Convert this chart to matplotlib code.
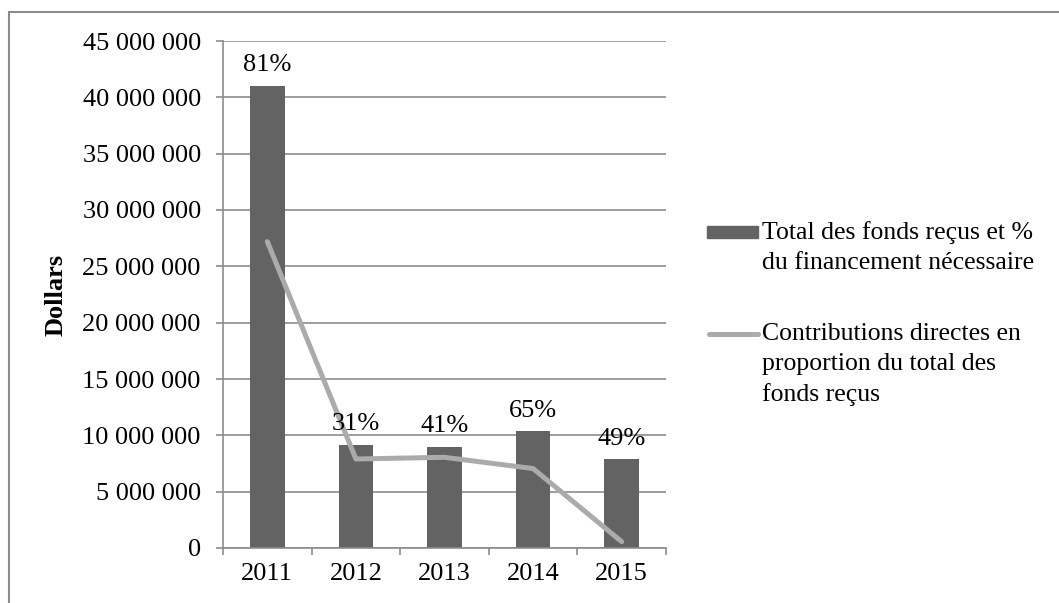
import matplotlib.pyplot as plt
import matplotlib.patches as mpatches
from matplotlib.lines import Line2D
from matplotlib.ticker import FuncFormatter

# Données
annees = ["2011", "2012", "2013", "2014", "2015"]
fonds_recus = [41000000, 9150000, 9000000, 10350000, 7870000]
contributions = [27200000, 7900000, 8050000, 7050000, 560000]
pourcentages = ["81%", "31%", "41%", "65%", "49%"]

couleur_barre = "#636363"
couleur_ligne = "#ababab"
couleur_grille = "#8c8c8c"
taille = 19

plt.rcParams["font.family"] = ["Liberation Serif", "DejaVu Serif"]

W, H = 1059, 603
fig = plt.figure(figsize=(W / 100, H / 100), dpi=100)
ax = fig.add_axes([223 / W, 1 - 548 / H, (666 - 223) / W, (548 - 41) / H])

x = list(range(len(annees)))
ax.bar(x, fonds_recus, width=0.39, color=couleur_barre, zorder=2)
ax.plot(x, contributions, color=couleur_ligne, linewidth=3.6, zorder=3,
        solid_capstyle="round", solid_joinstyle="round")

# Étiquettes de pourcentage au-dessus des barres
for xi, val, txt in zip(x, fonds_recus, pourcentages):
    ax.annotate(txt, (xi, val), xytext=(0, 7), textcoords="offset points",
                ha="center", va="bottom", fontsize=taille, color="black")

ax.set_xlim(-0.5, len(annees) - 0.5)
ax.set_ylim(0, 45000000)
ax.set_yticks(range(0, 45000001, 5000000))
ax.yaxis.set_major_formatter(FuncFormatter(lambda v, p: f"{int(v):,}".replace(",", " ")))
ax.set_xticks(x)
ax.set_xticklabels(annees)
ax.set_xticks([i - 0.5 for i in range(len(annees) + 1)], minor=True)

ax.tick_params(axis="y", length=5, width=1.2, color=couleur_grille, labelsize=taille, pad=11)
ax.tick_params(axis="x", which="major", length=0, labelsize=taille, pad=11)
ax.tick_params(axis="x", which="minor", length=5, width=1.2, color=couleur_grille)

ax.grid(axis="y", color=couleur_grille, linewidth=1.2, zorder=0)
ax.set_axisbelow(True)
for s in ["top", "right"]:
    ax.spines[s].set_visible(False)
for s in ["left", "bottom"]:
    ax.spines[s].set_color(couleur_grille)
    ax.spines[s].set_linewidth(1.2)

# Titre de l'axe vertical
fig.text(56 / W, 1 - 295 / H, "Dollars", rotation=90, ha="center", va="center",
         fontsize=taille, fontweight="bold")

# Légende dessinée à la main (symbole aligné sur la première ligne)
taille_leg = 18.5
fig.add_artist(mpatches.Rectangle((707 / W, 1 - 238 / H), 51 / W, 12 / H,
                                  transform=fig.transFigure, color=couleur_barre))
fig.text(762 / W, 1 - 221 / H, "Total des fonds reçus et %\ndu financement nécessaire",
         ha="left", va="top", fontsize=taille_leg, linespacing=1.45)
fig.add_artist(Line2D([709 / W, 758 / W], [1 - 334 / H, 1 - 334 / H],
                      transform=fig.transFigure, color=couleur_ligne,
                      linewidth=3.6, solid_capstyle="round"))
fig.text(762 / W, 1 - 323 / H,
         "Contributions directes en\nproportion du total des\nfonds reçus",
         ha="left", va="top", fontsize=taille_leg, linespacing=1.45)

# Cadre autour de la figure
cadre = mpatches.Rectangle((9 / W, -0.05), 1.1, 0.05 + 1 - 12 / H,
                           transform=fig.transFigure, fill=False,
                           edgecolor="#8c8c8c", linewidth=1.5)
fig.patches.append(cadre)

fig.savefig("out.png", dpi=100)
